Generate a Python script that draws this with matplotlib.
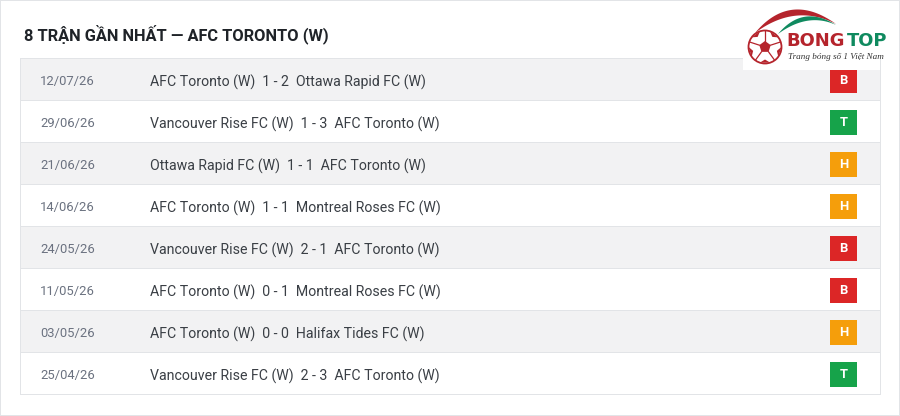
#coding=utf-8
import numpy as np
import matplotlib
matplotlib.use('Agg')
import matplotlib.pyplot as plt
from matplotlib.patches import Rectangle, Circle, Polygon

plt.rcParams['font.family'] = ['Roboto', 'DejaVu Sans']

title = '8 TRẬN GẦN NHẤT — AFC TORONTO (W)'
dates = ['12/07/26', '29/06/26', '21/06/26', '14/06/26', '24/05/26', '11/05/26', '03/05/26', '25/04/26']
homes = ['AFC Toronto (W)', 'Vancouver Rise FC (W)', 'Ottawa Rapid FC (W)', 'AFC Toronto (W)',
         'Vancouver Rise FC (W)', 'AFC Toronto (W)', 'AFC Toronto (W)', 'Vancouver Rise FC (W)']
scores = ['1 - 2', '1 - 3', '1 - 1', '1 - 1', '2 - 1', '0 - 1', '0 - 0', '2 - 3']
aways = ['Ottawa Rapid FC (W)', 'AFC Toronto (W)', 'AFC Toronto (W)', 'Montreal Roses FC (W)',
         'AFC Toronto (W)', 'Montreal Roses FC (W)', 'Halifax Tides FC (W)', 'AFC Toronto (W)']
results = ['B', 'T', 'H', 'H', 'B', 'B', 'H', 'T']
result_colors = {'B': '#dc2626', 'T': '#16a34a', 'H': '#f59e0b'}

GRID = '#e2e4e7'
RED = '#b5242c'
GREEN = '#0f8a5f'


def hline(ax, x0, x1, y):
    ax.add_patch(Rectangle((x0, y), x1 - x0, 1, fc=GRID, ec='none'))


def vline(ax, x, y0, y1):
    ax.add_patch(Rectangle((x, y0), 1, y1 - y0, fc=GRID, ec='none'))


# crescent between two quadratic curves with the same ends
def crescent(ax, p0, c_out, c_in, p2, color):
    t = np.linspace(0, 1, 60)[:, None]
    p0, c_out, c_in, p2 = [np.array(p, dtype=float) for p in (p0, c_out, c_in, p2)]
    out = (1 - t) ** 2 * p0 + 2 * t * (1 - t) * c_out + t ** 2 * p2
    inn = (1 - t) ** 2 * p0 + 2 * t * (1 - t) * c_in + t ** 2 * p2
    ax.add_patch(Polygon(np.vstack([out, inn[::-1]]), fc=color, ec='none', zorder=6))


fig = plt.figure(figsize=(9, 4.16), dpi=100, facecolor='white')
ax = fig.add_axes([0, 0, 1, 1])
ax.set_xlim(0, 900)
ax.set_ylim(416, 0)
ax.axis('off')

# outer frame of the page
hline(ax, 0, 900, 0)
hline(ax, 0, 900, 415)
vline(ax, 0, 0, 416)
vline(ax, 899, 0, 416)

ax.text(24, 34, title, fontsize=11.8, fontweight='bold', color='#1f2328', va='center', ha='left')

# rows of the table
top = 58
rowh = 42
for i in range(len(dates)):
    y = top + i * rowh
    if i % 2 == 0:
        ax.add_patch(Rectangle((20, y), 860, rowh, fc='#f2f2f3', ec='none'))
    hline(ax, 20, 880, y)
    ax.text(40, y + 23.5, dates[i], fontsize=9.4, color='#6b7280', va='center', ha='left')
    match = homes[i] + '  ' + scores[i] + '  ' + aways[i]
    ax.text(150, y + 24.5, match, fontsize=10.2, color='#3a3f45', va='center', ha='left')
    ax.add_patch(Rectangle((830, y + 10), 27, 25, fc=result_colors[results[i]], ec='none'))
    ax.text(843.5, y + 22.5, results[i], fontsize=9.4, fontweight='bold', color='white', va='center', ha='center')
bottom = top + len(dates) * rowh
hline(ax, 20, 881, bottom)
vline(ax, 20, top, bottom)
vline(ax, 880, top, bottom)

# logo on a white patch
ax.add_patch(Rectangle((743, 6), 137, 64, fc='white', ec='none', zorder=5))
ax.add_patch(Rectangle((880, 6), 10, 52, fc='white', ec='none', zorder=5))
crescent(ax, (755, 33), (790, -9), (795, 3), (836, 24), RED)
crescent(ax, (778, 34), (803, 4), (808, 12), (836, 25), GREEN)
ax.add_patch(Circle((765, 47), 16.5, fc='white', ec=RED, lw=1.3, zorder=7))
ang = np.deg2rad(np.arange(5) * 72 - 90)
ax.add_patch(Polygon(np.c_[765 + 6 * np.cos(ang), 47 + 6 * np.sin(ang)], fc=RED, ec='none', zorder=8))
for a in ang:
    ax.plot([765 + 6 * np.cos(a), 765 + 16 * np.cos(a)], [47 + 6 * np.sin(a), 47 + 16 * np.sin(a)],
            color=RED, lw=0.9, zorder=8)
    b = a + np.deg2rad(36)
    ax.add_patch(Polygon([(765 + 16.5 * np.cos(b + d), 47 + 16.5 * np.sin(b + d)) for d in (-0.32, 0.32)]
                         + [(765 + 12.5 * np.cos(b), 47 + 12.5 * np.sin(b))], fc=RED, ec='none', zorder=8))
ax.text(786.5, 41, 'BONG', fontsize=12.9, fontweight='bold', family='DejaVu Sans', color=RED, va='center', ha='left', zorder=9)
ax.text(847, 41, 'TOP', fontsize=12.9, fontweight='bold', family='DejaVu Sans', color=GREEN, va='center', ha='left', zorder=9)
ax.text(788, 57, 'Trang bóng số 1 Việt Nam', fontsize=6.6, style='italic', family=['Liberation Serif', 'DejaVu Serif'],
        color='#333333', va='center', ha='left', zorder=9)

fig.savefig('out.png', dpi=100, facecolor='white')
